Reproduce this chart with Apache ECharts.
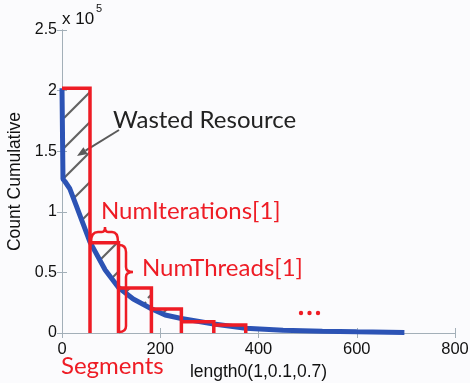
<!DOCTYPE html>
<html>
<head>
<meta charset="utf-8">
<script src="https://cdn.jsdelivr.net/npm/echarts@6/dist/echarts.min.js"></script>
<style>
  html, body { margin: 0; padding: 0; background: #fbfbfd; }
  #chart { width: 470px; height: 383px; }
</style>
</head>
<body>
<div id="chart"></div>
<script>
// Cumulative count curve over length0
const curveX = [0, 2, 6, 16, 30, 43, 57, 88, 115, 145, 182, 210, 243, 309, 374, 450, 530, 600, 697];
const curveCount = [202000, 127000, 125000, 119000, 104000, 90000, 75000, 52000, 37500, 28000,
                    20000, 14800, 12000, 7500, 4000, 2200, 1500, 1000, 500];

// Segments: start / end along length0 and the height each one is given
const segStart = [0, 57, 115, 182, 243, 309];
const segEnd = [57, 115, 182, 243, 309, 374];
const segTop = [202000, 74500, 37200, 19800, 9200, 6600];

// Axis ticks
const xTicks = [0, 200, 400, 600, 800];
const yTicks = [0, 50000, 100000, 150000, 200000, 250000];
const yTickLabels = ['0', '0.5', '1', '1.5', '2', '2.5'];

const RED = '#ee1c25';
const BLUE = '#2c53b5';
const AXIS = '#a3afb8';
const TICK_FONT = '"Liberation Sans", Arial, sans-serif';
const NOTE_FONT = 'Lato, "Open Sans", sans-serif';

// Diagonal hatch tile for the wasted area
function hatchTile() {
  const c = document.createElement('canvas');
  c.width = 28; c.height = 30;
  const g = c.getContext('2d');
  g.strokeStyle = '#626262';
  g.lineWidth = 2.2;
  g.beginPath();
  g.moveTo(1, 28);
  g.lineTo(27, 2);
  g.stroke();
  return c;
}
const hatch = { image: hatchTile(), repeat: 'repeat', x: 7, y: 0 };

const segData = segStart.map((s, i) => [s, segEnd[i], segTop[i]]);
const curveData = curveX.map((x, i) => [x, curveCount[i]]);

// Curly braces drawn next to the second segment
const braceStyle = { stroke: RED, lineWidth: 2.5, fill: 'none' };
const bracePaths = [
  'M91,242 Q91,232 98,232 L102,232 Q105,232 105,227 Q105,232 108,232 L112,232 Q118,232 118,242',
  'M119,245 Q126,245 126,252 L126,267 Q126,272 133,272 Q126,272 126,277 L126,326 Q126,332 119,332'
];

const chart = echarts.init(document.getElementById('chart'), null, { renderer: 'canvas' });

chart.setOption({
  backgroundColor: '#fbfbfd',
  animation: false,
  grid: { left: 62, right: 15, top: 30, bottom: 50, containLabel: false, outerBoundsMode: 'none' },
  xAxis: [{
    type: 'value', min: xTicks[0], max: xTicks[xTicks.length - 1], interval: 200,
    position: 'bottom',
    name: 'length0(1,0.1,0.7)', nameLocation: 'middle', nameGap: 30,
    nameTextStyle: { fontFamily: TICK_FONT, fontSize: 17.5, color: '#111' },
    axisLine: { show: true, lineStyle: { color: AXIS, width: 1 } },
    axisTick: { show: true, inside: true, length: 5, lineStyle: { color: AXIS } },
    axisLabel: { fontFamily: TICK_FONT, fontSize: 16.5, color: '#111', margin: 8 },
    splitLine: { show: false }
  }, {
    type: 'value', min: xTicks[0], max: xTicks[xTicks.length - 1], interval: 200,
    position: 'top',
    axisLine: { show: true, lineStyle: { color: AXIS, width: 1 } },
    axisTick: { show: true, inside: true, length: 5, lineStyle: { color: AXIS } },
    axisLabel: { show: false },
    splitLine: { show: false }
  }],
  yAxis: [{
    type: 'value', min: yTicks[0], max: yTicks[yTicks.length - 1], interval: 50000,
    position: 'left',
    name: 'Count Cumulative', nameLocation: 'middle', nameGap: 34, nameRotate: 90,
    nameTextStyle: { fontFamily: TICK_FONT, fontSize: 17.5, color: '#111' },
    axisLine: { show: true, lineStyle: { color: AXIS, width: 1 } },
    axisTick: { show: true, inside: true, length: 5, lineStyle: { color: AXIS } },
    axisLabel: {
      fontFamily: TICK_FONT, fontSize: 16, color: '#111', margin: 5,
      formatter: v => { const k = yTicks.indexOf(v); return k >= 0 ? yTickLabels[k] : ''; }
    },
    splitLine: { show: false }
  }, {
    type: 'value', min: yTicks[0], max: yTicks[yTicks.length - 1], interval: 50000,
    position: 'right',
    axisLine: { show: true, lineStyle: { color: AXIS, width: 1 } },
    axisTick: { show: true, inside: true, length: 5, lineStyle: { color: AXIS } },
    axisLabel: { show: false },
    splitLine: { show: false }
  }],
  series: [
    {
      // hatched gap between each segment's height and the curve
      type: 'custom', z: 1, silent: true,
      data: segData,
      renderItem(params, api) {
        const x0 = api.value(0), x1 = api.value(1), top = api.value(2);
        const pts = [api.coord([x0, top]), api.coord([x1, top])];
        for (let k = curveX.length - 1; k >= 0; k--) {
          if (curveX[k] >= x0 && curveX[k] <= x1) pts.push(api.coord([curveX[k], curveCount[k]]));
        }
        return { type: 'polygon', shape: { points: pts }, style: { fill: hatch, stroke: 'none' } };
      }
    },
    {
      type: 'line', z: 2, silent: true,
      data: curveData,
      showSymbol: false,
      smooth: false,
      lineStyle: { color: BLUE, width: 5 }
    },
    {
      // segment outlines
      type: 'custom', z: 3, silent: true,
      data: segData,
      renderItem(params, api) {
        const x0 = api.value(0), x1 = api.value(1), top = api.value(2);
        return {
          type: 'polyline',
          shape: { points: [api.coord([x0, top]), api.coord([x1, top]), api.coord([x1, 0])] },
          style: { stroke: RED, lineWidth: 3.5, fill: 'none', lineJoin: 'miter' }
        };
      }
    },
    {
      // braces
      type: 'custom', z: 4, silent: true, clip: false,
      data: [[0, 0]],
      renderItem() {
        return {
          type: 'group',
          children: bracePaths.map(p => ({ type: 'path', shape: { pathData: p }, style: braceStyle }))
        };
      }
    }
  ],
  graphic: [
    // scale factor
    { type: 'text', x: 62, y: 11, style: { text: 'x 10', font: '17px ' + TICK_FONT, fill: '#111' } },
    { type: 'text', x: 96, y: 3, style: { text: '5', font: '11px ' + TICK_FONT, fill: '#111' } },

    // wasted-resource note and arrow
    { type: 'text', x: 113, y: 108, style: { text: 'Wasted Resource', font: '24px ' + NOTE_FONT, fill: '#222' } },
    { type: 'line', shape: { x1: 119, y1: 130, x2: 85.5, y2: 150.7 }, style: { stroke: '#5a5a5a', lineWidth: 2 } },
    { type: 'polygon', shape: { points: [[77, 156], [87.6, 154.1], [83.4, 147.3]] }, style: { fill: '#5a5a5a' } },

    // labels for iteration / thread sizes
    { type: 'text', x: 101, y: 199, style: { text: 'NumIterations[1]', font: '24px ' + NOTE_FONT, fill: RED } },
    { type: 'text', x: 142, y: 256, style: { text: 'NumThreads[1]', font: '24px ' + NOTE_FONT, fill: RED } },
    { type: 'text', x: 61, y: 354, style: { text: 'Segments', font: '24px ' + NOTE_FONT, fill: RED } },

    // ellipsis
    { type: 'circle', shape: { cx: 301, cy: 313, r: 2.2 }, style: { fill: RED } },
    { type: 'circle', shape: { cx: 309.5, cy: 313, r: 2.2 }, style: { fill: RED } },
    { type: 'circle', shape: { cx: 318, cy: 313, r: 2.2 }, style: { fill: RED } }
  ]
});
</script>
</body>
</html>
